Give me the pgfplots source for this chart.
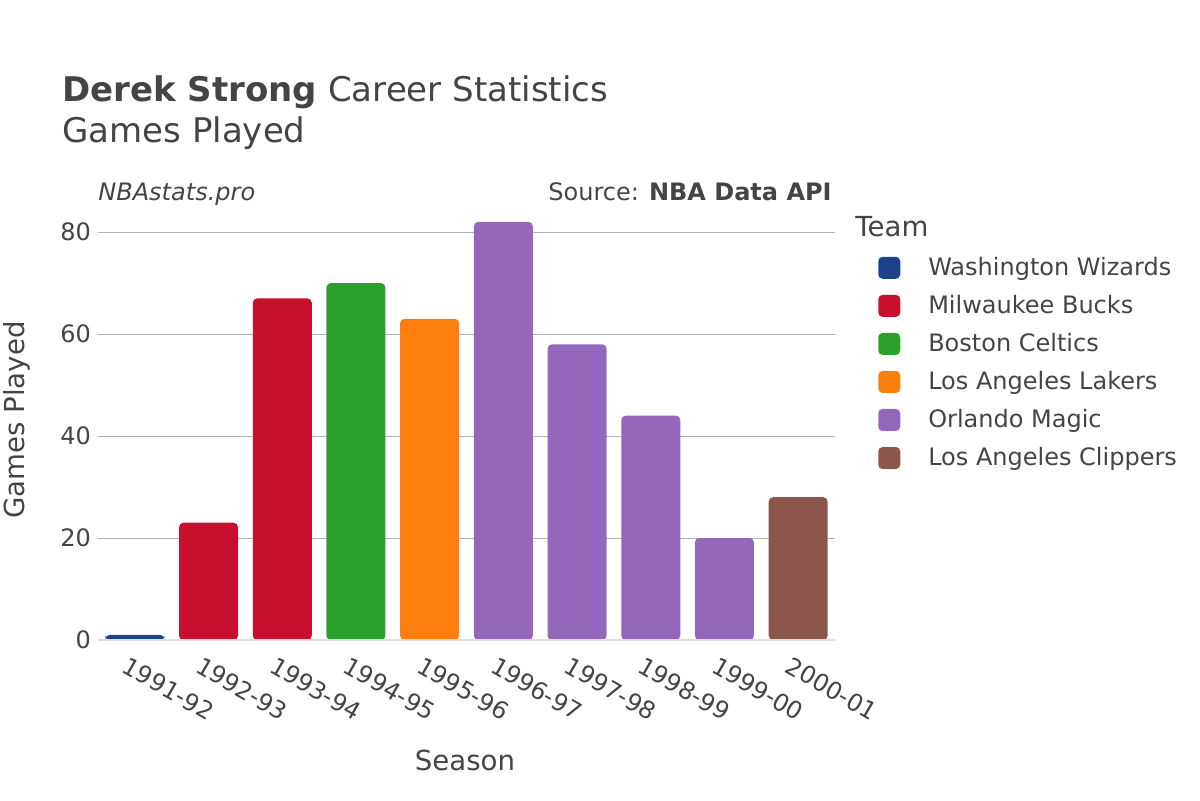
\documentclass[border=0pt]{standalone}
\usepackage{pgfplots}
\pgfplotsset{compat=1.18}
\usepackage{fontspec}
\setmainfont{DejaVu Sans}
\definecolor{txt}{HTML}{444444}
\definecolor{cwas}{HTML}{1D428A}
\definecolor{cmil}{HTML}{C8102E}
\definecolor{cbos}{HTML}{2CA02C}
\definecolor{clal}{HTML}{FF7F0E}
\definecolor{corl}{HTML}{9467BD}
\definecolor{clac}{HTML}{8C564B}
\begin{document}
\begin{tikzpicture}[x=0.5pt,y=0.5pt]
\useasboundingbox (0,0) rectangle (1200,800);
\begin{axis}[
  at={(49pt,80pt)}, anchor=south west,
  scale only axis, width=368.5pt, height=220pt,
  xmin=-0.5, xmax=9.5, ymin=0, ymax=86.3,
  axis line style={draw=none},
  tick style={draw=none},
  xtick={0,...,9},
  xticklabels={1991-92,1992-93,1993-94,1994-95,1995-96,1996-97,1997-98,1998-99,1999-00,2000-01},
  x tick label style={rotate=-30, anchor=north west, font=\fontsize{12}{14}\selectfont, text=txt, xshift=-4pt, yshift=-1pt},
  ytick={0,20,40,60,80},
  y tick label style={font=\fontsize{12}{14}\selectfont, text=txt},
  /pgf/number format/assume math mode=true,
  ymajorgrids, grid style={gray!60, line width=0.5pt},
  ybar, bar width=29.5pt, bar shift=0pt,
  every axis plot/.append style={draw=none, rounded corners=2.2pt},
  legend cell align=left,
  legend style={at={(1.05,0.889)}, anchor=north west, draw=none, fill=none,
    font=\fontsize{12}{14}\selectfont, text=txt, row sep=4.4pt,
    nodes={inner xsep=7pt}},
  legend image code/.code={\fill[rounded corners=2.2pt] (0pt,-5.5pt) rectangle (11pt,5.5pt); \path (18pt,0pt);},
]
\addplot[fill=cwas] coordinates {(0,1)};
\addlegendentry{Washington Wizards}
\addplot[fill=cmil] coordinates {(1,23) (2,67)};
\addlegendentry{Milwaukee Bucks}
\addplot[fill=cbos] coordinates {(3,70)};
\addlegendentry{Boston Celtics}
\addplot[fill=clal] coordinates {(4,63)};
\addlegendentry{Los Angeles Lakers}
\addplot[fill=corl] coordinates {(5,82) (6,58) (7,44) (8,20)};
\addlegendentry{Orlando Magic}
\addplot[fill=clac] coordinates {(9,28)};
\addlegendentry{Los Angeles Clippers}
\draw[color=black!12, line width=1pt] (axis cs:-0.5,0) -- (axis cs:9.5,0);
\end{axis}
\node[anchor=base west, text=txt, font=\fontsize{17}{20}\selectfont, inner sep=0pt] at (62,698) {\textbf{Derek Strong} Career Statistics};
\node[anchor=base west, text=txt, font=\fontsize{17}{20}\selectfont, inner sep=0pt] at (62,657) {Games Played};
\node[anchor=base west, text=txt, font=\fontsize{12}{14}\selectfont\itshape, inner sep=0pt] at (98,600) {NBAstats.pro};
\node[anchor=base east, text=txt, font=\fontsize{12}{14}\selectfont, inner sep=0pt] at (832,600) {Source: \textbf{NBA Data API}};
\node[anchor=west, text=txt, font=\fontsize{13.8}{16}\selectfont, inner sep=0pt] at (855,573) {Team};
\node[rotate=90, text=txt, font=\fontsize{13.8}{16}\selectfont, inner sep=0pt] at (17,380) {Games Played};
\node[text=txt, font=\fontsize{13.8}{16}\selectfont, inner sep=0pt] at (465,40) {Season};
\end{tikzpicture}
\end{document}
